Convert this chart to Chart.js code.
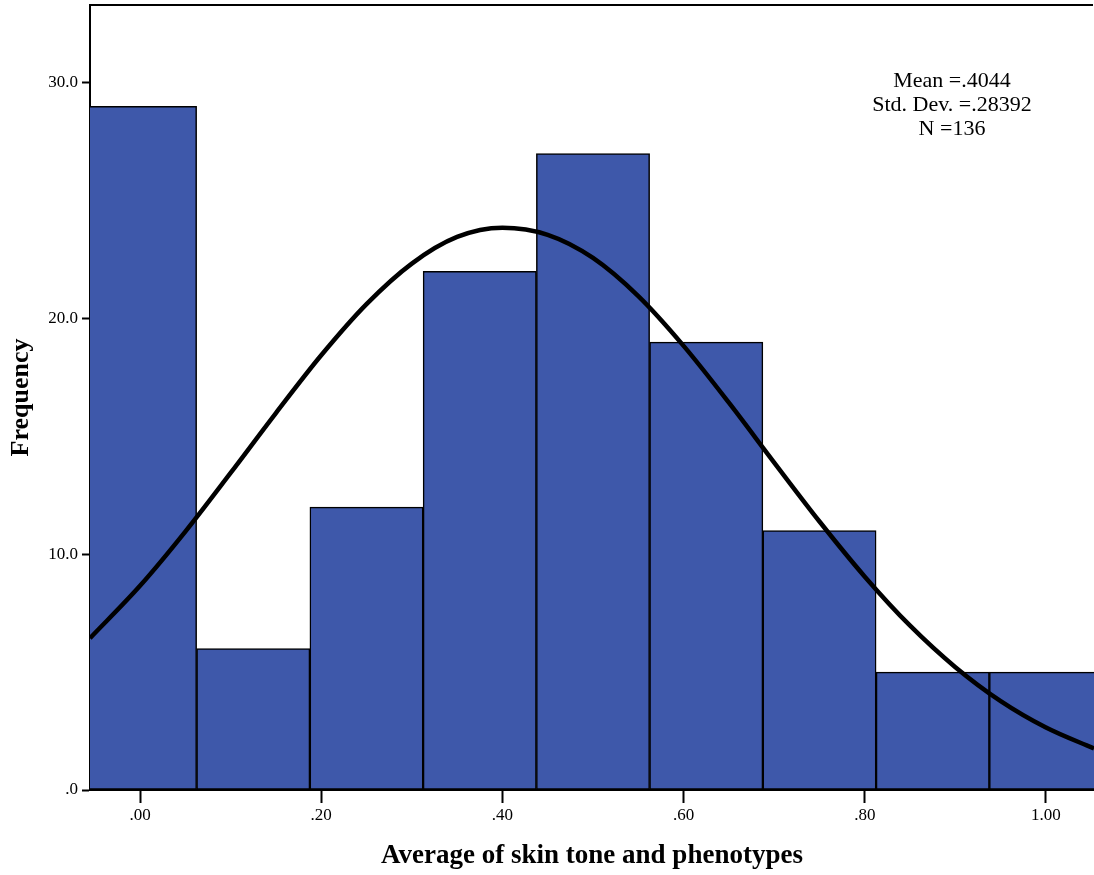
<!DOCTYPE html>
<html>
<head>
<meta charset="utf-8">
<script src="https://cdn.jsdelivr.net/npm/chart.js@4/dist/chart.umd.min.js"></script>
<style>
  html, body { margin: 0; padding: 0; background: #fff; }
  #wrap { width: 1094px; height: 875px; position: relative; }
</style>
</head>
<body>
<div id="wrap"><canvas id="c" width="1094" height="875"></canvas></div>
<script>
// Histogram bins (bin centers) and frequencies
const binCenters = [0.0, 0.125, 0.25, 0.375, 0.5, 0.625, 0.75, 0.875, 1.0];
const frequencies = [29, 6, 12, 22, 27, 19, 11, 5, 5];

// Normal curve
const curveX = [-0.0552, 0.0, 0.05, 0.1, 0.15, 0.2, 0.25, 0.3, 0.35, 0.4, 0.45, 0.5, 0.55, 0.6, 0.65, 0.7, 0.75, 0.8, 0.85, 0.9, 0.95, 1.0, 1.053];
const curveY = [6.44, 8.66, 10.96, 13.45, 15.99, 18.44, 20.61, 22.33, 23.46, 23.85, 23.55, 22.57, 20.95, 18.84, 16.43, 13.89, 11.39, 9.05, 6.97, 5.21, 3.77, 2.65, 1.76];

// Tick values and labels
const xTickValues = [0, 0.2, 0.4, 0.6, 0.8, 1.0];
const xTickLabels = ['.00', '.20', '.40', '.60', '.80', '1.00'];
const yTickValues = [0, 10, 20, 30];
const yTickLabels = ['.0', '10.0', '20.0', '30.0'];

const statsLines = ['Mean =.4044', 'Std. Dev. =.28392', 'N =136'];

const FONT = "'Liberation Serif', 'Times New Roman', serif";

const extras = {
  id: 'extras',
  afterDraw(chart) {
    const ctx = chart.ctx;
    const a = chart.chartArea;
    ctx.save();
    ctx.strokeStyle = '#000';
    ctx.lineWidth = 2;
    ctx.beginPath();
    ctx.moveTo(a.left - 1, a.top);
    ctx.lineTo(1093, a.top);
    ctx.stroke();
    ctx.fillStyle = '#000';
    ctx.font = '22px ' + FONT;
    ctx.textAlign = 'center';
    ctx.textBaseline = 'middle';
    statsLines.forEach((t, i) => ctx.fillText(t, 952, 81 + i * 24));
    ctx.restore();
  }
};

new Chart(document.getElementById('c'), {
  type: 'bar',
  data: {
    datasets: [
      {
        type: 'line',
        data: curveX.map((x, i) => ({ x: x, y: curveY[i] })),
        borderColor: '#000',
        borderWidth: 4.5,
        pointRadius: 0,
        fill: false,
        cubicInterpolationMode: 'monotone',
        order: 0,
        clip: 0
      },
      {
        type: 'bar',
        data: binCenters.map((x, i) => ({ x: x, y: frequencies[i] })),
        backgroundColor: 'rgb(62, 88, 170)',
        borderColor: '#000',
        borderWidth: 1.5,
        borderSkipped: false,
        barPercentage: 1.0,
        categoryPercentage: 1.0,
        order: 1,
        clip: 0
      }
    ]
  },
  options: {
    responsive: false,
    animation: false,
    devicePixelRatio: 1,
    layout: { padding: { left: 6, right: 0, top: 5, bottom: 3 } },
    plugins: { legend: { display: false }, tooltip: { enabled: false } },
    scales: {
      x: {
        type: 'linear',
        offset: false,
        min: -0.0552,
        max: 1.053,
        afterBuildTicks(s) { s.ticks = xTickValues.map(v => ({ value: v })); },
        afterFit(s) { s.height = 82; s.paddingLeft = 0; s.paddingRight = 0; },
        grid: { display: true, offset: false, drawOnChartArea: false, drawTicks: true, tickLength: 13, tickColor: '#000', tickWidth: 2 },
        border: { display: true, color: '#000', width: 2 },
        ticks: {
          color: '#000',
          font: { family: FONT, size: 17 },
          padding: 2,
          maxRotation: 0,
          autoSkip: false,
          callback(v) { const i = xTickValues.findIndex(t => Math.abs(t - v) < 1e-9); return i >= 0 ? xTickLabels[i] : ''; }
        },
        title: { display: true, text: 'Average of skin tone and phenotypes', color: '#000', font: { family: FONT, size: 27, weight: 'bold' }, padding: 0 }
      },
      y: {
        min: 0,
        max: 33.3,
        afterBuildTicks(s) { s.ticks = yTickValues.map(v => ({ value: v })); },
        afterFit(s) { s.width = 84; s.paddingTop = 0; s.paddingBottom = 0; },
        grid: { display: true, drawOnChartArea: false, drawTicks: true, tickLength: 8, tickColor: '#000', tickWidth: 2 },
        border: { display: true, color: '#000', width: 2 },
        ticks: {
          color: '#000',
          font: { family: FONT, size: 17 },
          padding: 4,
          autoSkip: false,
          callback(v) { const i = yTickValues.indexOf(v); return i >= 0 ? yTickLabels[i] : ''; }
        },
        title: { display: true, text: 'Frequency', color: '#000', font: { family: FONT, size: 26, weight: 'bold' }, padding: 0 }
      }
    }
  },
  plugins: [extras]
});
</script>
</body>
</html>
